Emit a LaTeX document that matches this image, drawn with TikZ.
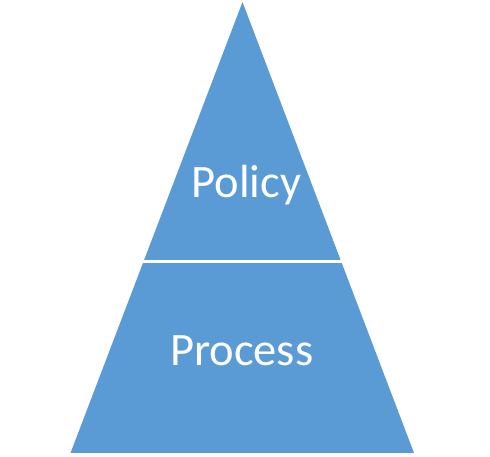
\documentclass[tikz,border=0pt]{standalone}
\usepackage{fontspec}
\setmainfont{Carlito}
\definecolor{officeblue}{HTML}{5B9BD5}
\begin{document}
\begin{tikzpicture}[x=1bp,y=1bp,
  label/.style={text=white,font=\fontsize{46.5bp}{56bp}\selectfont,inner sep=0pt,anchor=base}]
\useasboundingbox (0,0) rectangle (490,457);
\coordinate (apex) at (242.5,455);
\coordinate (bl) at (70.5,4);
\coordinate (br) at (414,4);
\fill[officeblue] (apex) -- (br) -- (bl) -- cycle;
\coordinate (cl) at (100,195.3);
\coordinate (cr) at (390,195.3);
\draw[white,line width=3.5bp] (cl) -- (cr);
\node[label] (policy) at (246.3,259.7) {Policy};
\node[label] (process) at (241.7,91) {Process};
\end{tikzpicture}
\end{document}
